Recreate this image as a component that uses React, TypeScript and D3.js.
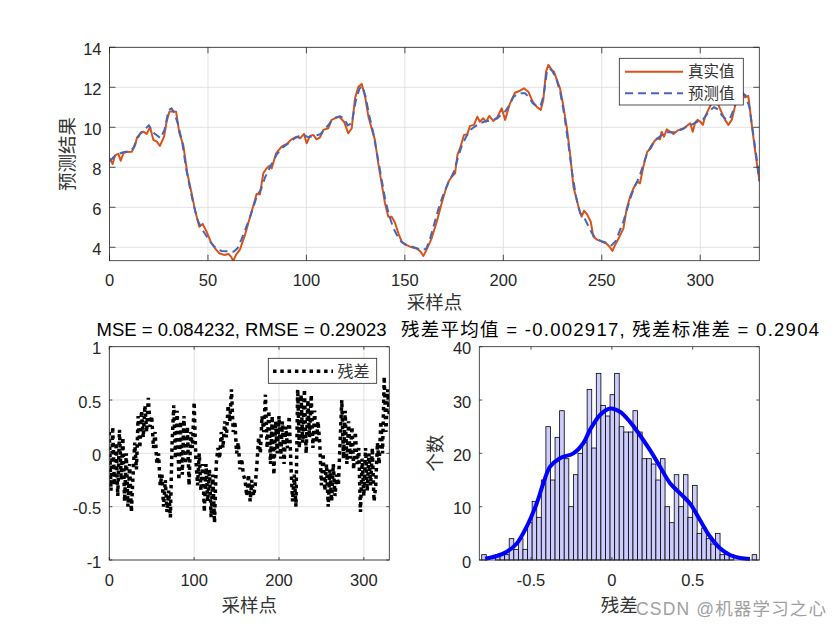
import React from 'react';
import * as d3 from 'd3';

// ---- data ----
const trueX = [0,1.6,2.8,4.5,5.7,7,8.7,11.3,13,14,15.5,17.2,18.9,20.6,22.3,24,25.6,27.7,29,30.4,32,33.8,35.5,37.5,39.5,41.7,43.4,45.6,47.3,49.3,51.4,53.6,55.8,58.1,60.4,61.7,62.9,64.2,66.3,68.8,71.4,73.4,74.7,76.4,78.1,79.8,81.2,82.4,84.6,87.4,90,92.5,95,96.8,98.8,100.1,101.8,103.5,105.2,106.9,108.6,111.1,112.8,114.5,116.7,119.1,121.3,123,124.7,126.4,128.1,129.8,131.5,133.1,134.8,136.5,138.2,139.9,141.6,143.3,145,146.7,148.4,150.6,153.5,156.3,158,159.4,161,163.6,166.2,168.7,170.4,172.1,173.8,175.5,176.7,178.3,180,181.7,183.1,185.1,186.8,188.1,189.8,191.2,192.9,194.9,196.9,199.2,200.9,203.4,205.9,208.5,210.5,212.7,214.9,216.9,219,220.3,221.7,222.9,224.6,225.7,227.1,228.8,230.5,232.3,234,235.6,237.3,238.6,239.8,241,242.7,244.4,245.7,247.8,250,252.2,253.9,255.4,256.8,259,261,262.7,264.4,266.1,268.1,269.4,271.1,273.1,274.9,276.5,278.2,279.6,280.4,281.6,283,284.7,286.4,288.4,290.1,291.9,293.2,294.9,296.2,297.4,298.6,300,301.3,302.5,304.1,305.8,307.5,309.2,310.9,312.6,314.3,316,317.6,319.3,321.5,322.7,324.4,326.1,327.8,329,330];
const trueY = [8.45,8.17,8.6,8.67,8.33,8.7,8.77,8.78,9.1,9.5,9.67,9.78,9.67,10.0,9.37,9.28,9.07,9.53,10.28,10.78,10.8,10.78,9.7,9.1,7.7,6.7,5.87,5.03,5.17,4.78,4.28,3.95,3.7,3.62,3.67,3.53,3.32,3.62,3.9,4.62,5.53,6.2,6.67,6.65,7.7,7.95,8.07,7.95,8.7,9.03,9.17,9.4,9.53,9.45,9.67,9.2,9.57,9.62,9.4,9.5,9.87,9.95,10.37,10.45,10.53,10.28,9.7,9.95,11.45,12.03,12.17,11.53,10.53,9.95,9.37,8.2,7.2,6.2,5.53,5.53,5.23,4.7,4.28,4.12,4.0,3.92,3.78,3.57,3.87,4.45,5.28,6.2,6.78,7.28,7.53,7.7,8.62,9.03,9.62,9.65,10.07,10.12,10.53,10.28,10.45,10.28,10.57,10.32,10.5,10.95,10.37,11.2,11.73,11.83,11.95,11.78,11.28,11.03,10.87,11.37,12.78,13.12,12.87,12.78,12.4,11.95,11.05,9.95,8.6,7.03,6.37,5.87,5.53,5.83,5.62,5.28,4.53,4.37,4.28,4.2,4.03,3.82,4.12,4.53,4.95,5.95,6.53,6.95,7.28,7.2,8.03,8.78,8.95,9.28,9.45,9.4,9.78,9.53,9.9,9.78,9.67,9.83,9.9,9.95,10.07,10.2,9.78,10.23,10.37,10.28,10.12,10.53,10.87,11.2,11.37,11.12,10.73,10.37,10.12,10.37,11.03,11.62,11.78,11.5,11.57,10.2,8.87,8.03,7.4];

const predX = [0,2,4,7,10,12,14,16,18,20,22,24,26,28,30,31.5,33,35,37,39,41,43,45,47,49,51,53,55,57,59,61,63,65,67,69,71,73,75,77,79,81,83,85,88,91,94,97,99,101,103,105,107,109,111,113,115,117,119,121,123,125,127,128.5,130,132,134,136,138,140,142,144,146,148,150,153,156,159,161,163,165,167,169,171,173,175,177,179,181,183,185,188,191,194,197,199,201,203,205,207,209,211,213,215,217,219,220.5,222,223.5,225,227,229,231,233,235,237,239,241,243,245,247,250,253,255,257,259,261,263,265,267,269,271,273,275,277,279,281,283,285,287,289,291,293,295,297,299,301,303,305,307,309,311,313,315,317,319,321,323,325,327,329,330];
const predY = [8.3,8.5,8.65,8.75,8.8,8.95,9.4,9.75,9.9,10.1,9.75,9.6,9.45,9.9,10.85,10.95,10.7,10.1,9.2,7.9,6.9,6.0,5.3,4.9,4.6,4.3,4.05,3.9,3.82,3.8,3.8,3.78,3.95,4.4,4.9,5.4,6.0,6.6,6.9,7.5,7.9,8.3,8.65,9.0,9.2,9.45,9.6,9.6,9.5,9.55,9.6,9.65,9.85,10.1,10.35,10.5,10.55,10.45,10.1,10.2,11.3,11.95,12.05,11.55,10.55,9.7,8.6,7.5,6.4,5.6,5.0,4.6,4.3,4.15,4.05,3.95,3.85,3.95,4.5,5.2,5.9,6.5,7.0,7.4,7.8,8.5,9.1,9.5,9.85,10.0,10.2,10.3,10.35,10.45,10.65,10.8,11.1,11.5,11.65,11.7,11.7,11.5,11.2,11.05,11.1,11.6,12.7,12.95,12.8,12.4,11.7,10.6,9.2,7.7,6.5,5.7,5.5,5.1,4.7,4.45,4.3,4.2,4.1,4.3,4.8,5.3,5.95,6.6,7.1,7.5,8.1,8.7,9.05,9.35,9.5,9.65,9.75,9.75,9.75,9.85,9.9,10.05,10.1,10.2,10.3,10.35,10.6,10.85,11.0,10.9,10.6,10.4,10.4,10.9,11.5,11.7,11.6,11.0,9.6,8.2,7.3];

// residuals, one value every second sample (sample index 0, 2, ..., 330)
const residY = [
  0.2,-0.35,0.25,-0.3,0.1,-0.4,0.22,-0.25,0.15,-0.45,
  0.0,-0.5,-0.1,-0.55,-0.2,
  0.1,-0.15,0.35,0.05,
  0.4,0.15,0.45,0.2,0.52,
  0.25,0.35,0.05,0.2,-0.1,0.0,
  -0.3,-0.2,-0.5,-0.25,-0.55,-0.35,
  -0.6,0.1,0.45,-0.05,
  0.4,-0.25,0.3,-0.2,0.35,-0.1,0.25,-0.3,0.2,0.05,0.48,
  -0.05,-0.3,0.0,-0.35,-0.1,-0.55,
  -0.1,-0.45,-0.15,-0.6,-0.2,-0.65,
  -0.1,0.05,-0.05,0.2,0.05,0.3,0.15,0.45,0.3,0.6,
  0.2,0.3,0.0,0.1,-0.15,-0.05,-0.2,
  -0.25,-0.4,-0.2,-0.45,-0.25,-0.4,-0.3,
  -0.1,0.15,0.0,0.35,0.2,0.55,
  0.05,0.4,-0.1,0.35,-0.2,0.3,0.0,0.35,
  -0.05,0.3,-0.1,0.25,0.05,0.35,-0.1,
  -0.45,-0.2,-0.5,
  0.6,0.05,0.55,0.1,0.6,0.0,0.5,0.15,0.55,0.05,0.4,0.1,0.3,
  0.1,-0.3,0.0,-0.35,-0.1,-0.5,
  -0.15,-0.45,-0.1,-0.4,-0.2,-0.3,
  0.1,0.5,-0.05,0.4,
  -0.1,0.3,-0.05,0.25,-0.15,0.2,-0.1,
  0.05,-0.55,-0.05,-0.4,0.05,-0.35,0.0,-0.3,0.05,-0.45,
  -0.3,0.1,-0.1,0.3,0.0,0.72,0.2,0.6,0.35,
];
const residX = d3.range(0, 331, 2);

const histCounts = [1,0,0,1,1,1,4,2,4,2,7,11,8,15,25,15,23,28,19,10,16,20,22,32,21,35,29,27,31,35,25,24,24,28,24,19,19,18,15,19,10,7,16,10,16,8,14,5,6,4,3,5,1,1,1,0,0,0,0,1];
const histMin = -0.805;
const histMax = 0.896;

const kdeX = [-0.784,-0.712,-0.65,-0.588,-0.527,-0.465,-0.424,-0.382,-0.321,-0.238,-0.177,-0.135,-0.073,-0.011,0.05,0.112,0.174,0.236,0.298,0.36,0.422,0.483,0.545,0.607,0.669,0.731,0.793,0.854];
const kdeY = [0.25,0.75,1.56,3.1,6.25,10.6,14.4,17.5,19.1,20,21.9,24.4,27.2,28.4,27.8,25.9,23.4,20.6,17.5,14.4,12.5,10.6,7.5,4.4,2.2,0.94,0.38,0.19];

const topXTicks = [0,50,100,150,200,250,300];
const topYTicks = [4,6,8,10,12,14];
const resXTicks = [0,100,200,300];
const resYTicks = [-1,-0.5,0,0.5,1];
const histXTicks = [-0.5,0,0.5];
const histYTicks = [0,10,20,30,40];

const title1 = 'MSE = 0.084232, RMSE = 0.29023';
const title2 = '残差平均值 = -0.002917, 残差标准差 = 0.2904';

// ---- styles ----
const NUM = "'Liberation Sans', Arial, sans-serif";
const CJK = "'Noto Sans CJK SC', sans-serif";
const MIX = "'Liberation Sans', 'Noto Sans CJK SC', sans-serif";
const AX = '#262626';

type Box = { x0: number; x1: number; y0: number; y1: number };

function Frame({ box, xs, ys, xTicks, yTicks, tick }: {
  box: Box; xs: any; ys: any; xTicks: number[]; yTicks: number[]; tick: number;
}) {
  const fmt = (v: number) => String(v);
  return (
    <g>
      <g stroke={AX} strokeWidth={0.8} fill="none">
        <rect x={box.x0} y={box.y0} width={box.x1 - box.x0} height={box.y1 - box.y0} />
        {xTicks.map((t) => (
          <g key={'xt' + t}>
            <line x1={xs(t)} x2={xs(t)} y1={box.y1} y2={box.y1 - tick} />
            <line x1={xs(t)} x2={xs(t)} y1={box.y0} y2={box.y0 + tick} />
          </g>
        ))}
        {yTicks.map((t) => (
          <g key={'yt' + t}>
            <line x1={box.x0} x2={box.x0 + tick} y1={ys(t)} y2={ys(t)} />
            <line x1={box.x1} x2={box.x1 - tick} y1={ys(t)} y2={ys(t)} />
          </g>
        ))}
      </g>
      <g fontFamily={NUM} fontSize={16.5} fill={AX}>
        {xTicks.map((t) => (
          <text key={'xl' + t} x={xs(t)} y={box.y1 + 14} dy="0.71em" textAnchor="middle">{fmt(t)}</text>
        ))}
        {yTicks.map((t) => (
          <text key={'yl' + t} x={box.x0 - 8} y={ys(t) + 2} dy="0.35em" textAnchor="end">{fmt(t)}</text>
        ))}
      </g>
    </g>
  );
}

function Grid({ box, xs, ys, xTicks, yTicks }: { box: Box; xs: any; ys: any; xTicks: number[]; yTicks: number[] }) {
  return (
    <g stroke="#dcdcdc" strokeWidth={0.8}>
      {xTicks.map((t) => <line key={'gx' + t} x1={xs(t)} x2={xs(t)} y1={box.y0} y2={box.y1} />)}
      {yTicks.map((t) => <line key={'gy' + t} x1={box.x0} x2={box.x1} y1={ys(t)} y2={ys(t)} />)}
    </g>
  );
}

export default function App() {
  // top: prediction vs truth
  const topBox: Box = { x0: 109.5, x1: 759.3, y0: 47.3, y1: 260.7 };
  const tx = d3.scaleLinear().domain([0, 330]).range([topBox.x0, topBox.x1]);
  const ty = d3.scaleLinear().domain([3.33, 14]).range([topBox.y1, topBox.y0]);
  const truePath = d3.line<number>().x((d, i) => tx(trueX[i])).y((d) => ty(d))(trueY) || '';
  const predPath = d3.line<number>().x((d, i) => tx(predX[i])).y((d) => ty(d))(predY) || '';

  // bottom-left: residuals
  const resBox: Box = { x0: 109.3, x1: 389.3, y0: 346.7, y1: 560 };
  const rx = d3.scaleLinear().domain([0, 330]).range([resBox.x0, resBox.x1]);
  const ry = d3.scaleLinear().domain([-1, 1]).range([resBox.y1, resBox.y0]);
  const resPath = d3.line<number>().x((d, i) => rx(residX[i])).y((d) => ry(d))(residY) || '';

  // bottom-right: histogram + density
  const hBox: Box = { x0: 479.3, x1: 759.3, y0: 346.7, y1: 560 };
  const hx = d3.scaleLinear().domain([-0.82, 0.912]).range([hBox.x0, hBox.x1]);
  const hy = d3.scaleLinear().domain([0, 40]).range([hBox.y1, hBox.y0]);
  const binW = (histMax - histMin) / histCounts.length;
  const kdePath = d3.line<number>().x((d, i) => hx(kdeX[i])).y((d) => hy(d)).curve(d3.curveCatmullRom)(kdeY) || '';

  return (
    <div style={{ position: 'absolute', left: 0, top: 0 }}>
      <svg width={840} height={630} style={{ display: 'block', background: '#fff' }}>
        <defs>
          <clipPath id="clipTop"><rect x={topBox.x0} y={topBox.y0} width={topBox.x1 - topBox.x0} height={topBox.y1 - topBox.y0} /></clipPath>
          <clipPath id="clipRes"><rect x={resBox.x0} y={resBox.y0} width={resBox.x1 - resBox.x0} height={resBox.y1 - resBox.y0} /></clipPath>
        </defs>

        {/* top panel */}
        <Grid box={topBox} xs={tx} ys={ty} xTicks={topXTicks} yTicks={topYTicks} />
        <g clipPath="url(#clipTop)" fill="none">
          <path d={truePath} stroke="#D95319" strokeWidth={2} strokeLinejoin="round" />
          <path d={predPath} stroke="#4466BB" strokeWidth={2} strokeDasharray="8,5" />
        </g>
        <Frame box={topBox} xs={tx} ys={ty} xTicks={topXTicks} yTicks={topYTicks} tick={6} />
        <g>
          <rect x={619.3} y={58.3} width={124} height={46.7} fill="#fff" stroke={AX} strokeWidth={0.8} />
          <line x1={625} x2={683} y1={71.7} y2={71.7} stroke="#D95319" strokeWidth={2} />
          <line x1={625} x2={683} y1={93.3} y2={93.3} stroke="#4466BB" strokeWidth={2} strokeDasharray="8,5" />
          <text x={688} y={71.7} dy="0.36em" fontFamily={CJK} fontSize={15.5} fill="#333">真实值</text>
          <text x={688} y={93.3} dy="0.36em" fontFamily={CJK} fontSize={15.5} fill="#333">预测值</text>
        </g>
        <text x={(topBox.x0 + topBox.x1) / 2} y={302} dy="0.36em" textAnchor="middle" fontFamily={CJK} fontSize={18.5} fill="#333">采样点</text>
        <text transform={`translate(67,${(topBox.y0 + topBox.y1) / 2}) rotate(-90)`} dy="0.36em" textAnchor="middle" fontFamily={CJK} fontSize={18.5} fill="#333">预测结果</text>

        {/* residual panel */}
        <Grid box={resBox} xs={rx} ys={ry} xTicks={resXTicks} yTicks={resYTicks} />
        <g clipPath="url(#clipRes)">
          <path d={resPath} fill="none" stroke="#000" strokeWidth={3.5} strokeDasharray="3.5,3.8" />
        </g>
        <Frame box={resBox} xs={rx} ys={ry} xTicks={resXTicks} yTicks={resYTicks} tick={3} />
        <g>
          <rect x={268.3} y={358.3} width={108.4} height={25} fill="#fff" stroke={AX} strokeWidth={0.8} />
          <line x1={273} x2={333} y1={371.3} y2={371.3} stroke="#000" strokeWidth={3.5} strokeDasharray="3.5,3.8" />
          <text x={337.5} y={371.3} dy="0.36em" fontFamily={CJK} fontSize={16} fill="#333">残差</text>
        </g>
        <text x={241.5} y={336} textAnchor="middle" fontFamily={MIX} fontSize={18.5} fill="#000">{title1}</text>
        <text x={(resBox.x0 + resBox.x1) / 2} y={605} dy="0.36em" textAnchor="middle" fontFamily={CJK} fontSize={18.5} fill="#333">采样点</text>

        {/* histogram panel */}
        <g fill="#CCCCFF" stroke="#000" strokeWidth={0.8}>
          {histCounts.map((c, i) => c > 0 ? (
            <rect key={'b' + i} x={hx(histMin + i * binW)} y={hy(c)} width={hx(histMin + (i + 1) * binW) - hx(histMin + i * binW)} height={hy(0) - hy(c)} />
          ) : null)}
        </g>
        <path d={kdePath} fill="none" stroke="#0000FF" strokeWidth={4} strokeLinejoin="round" />
        <Frame box={hBox} xs={hx} ys={hy} xTicks={histXTicks} yTicks={histYTicks} tick={3} />
        <text x={610} y={336} textAnchor="middle" fontFamily={MIX} fontSize={18.5} textLength={418} lengthAdjust="spacing" fill="#000">{title2}</text>
        <text x={(hBox.x0 + hBox.x1) / 2} y={605} dy="0.36em" textAnchor="middle" fontFamily={CJK} fontSize={18.5} fill="#333">残差</text>
        <text transform={`translate(435.5,${(hBox.y0 + hBox.y1) / 2}) rotate(-90)`} dy="0.36em" textAnchor="middle" fontFamily={CJK} fontSize={18.5} fill="#333">个数</text>

        {/* watermark */}
        <text x={636} y={615} fontFamily={MIX} fontSize={17.5} textLength={190} lengthAdjust="spacing" fill="#a0a0a0">CSDN @机器学习之心</text>
      </svg>
    </div>
  );
}
